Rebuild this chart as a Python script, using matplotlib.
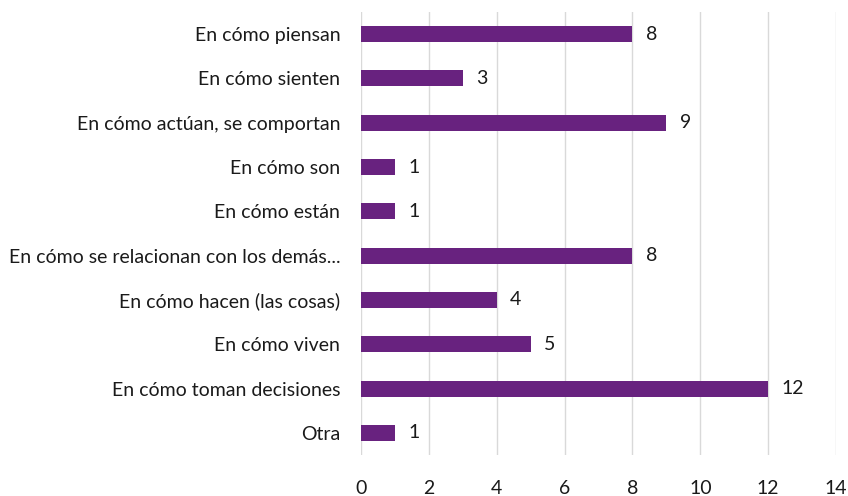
import matplotlib
matplotlib.use("Agg")
import matplotlib.pyplot as plt

categories = [
    "En cómo piensan",
    "En cómo sienten",
    "En cómo actúan, se comportan",
    "En cómo son",
    "En cómo están",
    "En cómo se relacionan con los demás...",
    "En cómo hacen (las cosas)",
    "En cómo viven",
    "En cómo toman decisiones",
    "Otra",
]
values = [8, 3, 9, 1, 1, 8, 4, 5, 12, 1]
x_ticks = [0, 2, 4, 6, 8, 10, 12, 14]

BAR_COLOR = "#68227F"
GRID_COLOR = "#D9D9D9"
TEXT_COLOR = "#1A1A1A"
FS = 14

plt.rcParams["font.family"] = ["Lato", "DejaVu Sans"]

fig = plt.figure(figsize=(8.48, 4.96), dpi=100)
ax = fig.add_axes([361 / 848, 1 - 455 / 496, (836 - 361) / 848, (455 - 12) / 496])

pos = list(range(len(categories)))
ax.barh(pos, values, height=0.36, color=BAR_COLOR, zorder=3)

for y, v in zip(pos, values):
    ax.annotate(str(v), xy=(v, y), xytext=(9.5, 0), textcoords="offset points",
                va="center", ha="left", fontsize=FS, color=TEXT_COLOR)

ax.set_xlim(0, 14)
ax.set_ylim(len(categories) - 0.5, -0.5)
ax.set_yticks(pos)
ax.set_yticklabels(categories, fontsize=FS, color=TEXT_COLOR)
ax.set_xticks(x_ticks)
ax.set_xticklabels([str(t) for t in x_ticks], fontsize=FS, color=TEXT_COLOR)

ax.tick_params(axis="y", length=0, pad=15)
ax.tick_params(axis="x", length=0, pad=18)
ax.grid(axis="x", color=GRID_COLOR, linewidth=1, zorder=0)
for s in ax.spines.values():
    s.set_visible(False)

fig.savefig("out.png", dpi=100)
